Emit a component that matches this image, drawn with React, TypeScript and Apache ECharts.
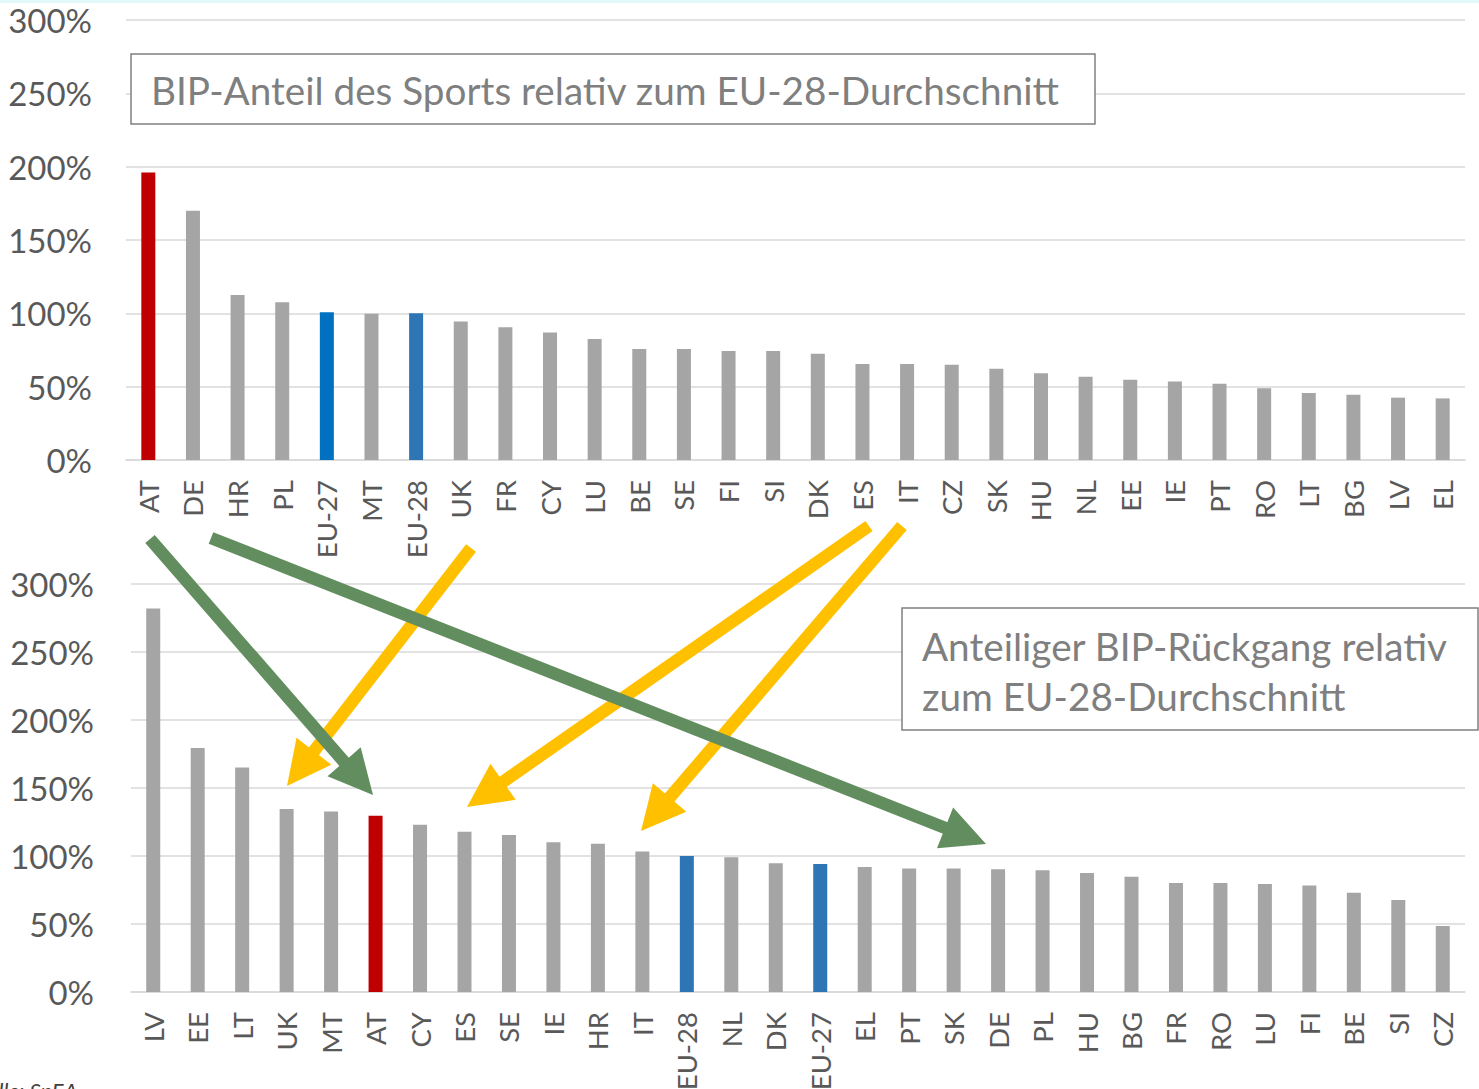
import React, { useEffect, useRef } from "react";
import * as echarts from "echarts";

const topCategories = ["AT","DE","HR","PL","EU-27","MT","EU-28","UK","FR","CY","LU","BE","SE","FI","SI","DK","ES","IT","CZ","SK","HU","NL","EE","IE","PT","RO","LT","BG","LV","EL"];
const topValues = [196,170,112.5,107.5,100.7,99.8,100,94.5,90.5,87,82.5,75.7,75.7,74.3,74.3,72.4,65.5,65.5,65,62.3,59.1,56.8,54.8,53.6,52,48.9,45.7,44.5,42.5,42];

const bottomCategories = ["LV","EE","LT","UK","MT","AT","CY","ES","SE","IE","HR","IT","EU-28","NL","DK","EU-27","EL","PT","SK","DE","PL","HU","BG","FR","RO","LU","FI","BE","SI","CZ"];
const bottomValues = [282,179.4,165.1,134.5,132.8,129.6,123,117.8,115.4,110.2,109,103.4,100,99,94.6,94.1,91.9,90.9,90.9,90.2,89.5,87.5,84.8,80.1,80.1,79.4,78.4,73,67.6,48.5];

const topTitle = "BIP-Anteil des Sports relativ zum EU-28-Durchschnitt";
const bottomTitleLines = ["Anteiliger BIP-Rückgang relativ", "zum EU-28-Durchschnitt"];
const sourceText = "Quelle: SpEA";

const GRAY = "#A5A5A5";
const RED = "#C00000";
const BLUE1 = "#0070C0";
const BLUE2 = "#2E75B6";
const GREEN = "#628D5E";
const YELLOW = "#FFC000";
const FONT = "Lato";

const topColor = (c: string) => (c === "AT" ? RED : c === "EU-27" ? BLUE1 : c === "EU-28" ? BLUE2 : GRAY);
const bottomColor = (c: string) => (c === "AT" ? RED : c === "EU-27" || c === "EU-28" ? BLUE2 : GRAY);

function arrow(tail: number[], tip: number[], color: string) {
  const dx = tip[0] - tail[0];
  const dy = tip[1] - tail[1];
  const L = Math.hypot(dx, dy);
  const ux = dx / L, uy = dy / L;
  const nx = -uy, ny = ux;
  const hl = 44, hw = 22;
  const bx = tip[0] - ux * hl, by = tip[1] - uy * hl;
  return [
    { type: "line", z: 100, shape: { x1: tail[0], y1: tail[1], x2: bx + ux * 3, y2: by + uy * 3 }, style: { stroke: color, lineWidth: 12.5, lineCap: "butt" } },
    { type: "polygon", z: 100, shape: { points: [[tip[0], tip[1]], [bx + nx * hw, by + ny * hw], [bx - nx * hw, by - ny * hw]] }, style: { fill: color } },
  ];
}

export default function App() {
  const ref = useRef<HTMLDivElement>(null);
  useEffect(() => {
    if (!ref.current) return;
    const chart = echarts.init(ref.current, null, { renderer: "svg" });
    const yAxisCommon = (margin: number) => ({
      type: "value",
      min: 0,
      max: 300,
      interval: 50,
      axisLine: { show: false },
      axisTick: { show: false },
      axisLabel: { formatter: "{value}%", color: "#595959", fontSize: 33, fontFamily: FONT, margin },
      splitLine: { lineStyle: { color: "#D9D9D9", width: 1.5 } },
    });
    const xAxisCommon = {
      type: "category",
      axisLine: { lineStyle: { color: "#D9D9D9", width: 1.5 } },
      axisTick: { show: false },
      axisLabel: { rotate: 90, interval: 0, margin: 20, color: "#595959", fontSize: 27.5, fontFamily: FONT },
    };
    const arrows = [
      ...arrow([471, 548], [287, 786], YELLOW),
      ...arrow([869, 526], [467, 807], YELLOW),
      ...arrow([902, 526], [641, 831], YELLOW),
      ...arrow([150, 539], [373, 795], GREEN),
      ...arrow([211, 538], [986, 844], GREEN),
    ];
    chart.setOption({
      animation: false,
      backgroundColor: "#ffffff",
      grid: [
        { left: 126, right: 14, top: 20, height: 440, containLabel: false, outerBoundsMode: "none" },
        { left: 131, right: 14, top: 584, height: 408, containLabel: false, outerBoundsMode: "none" },
      ],
      xAxis: [
        { ...xAxisCommon, gridIndex: 0, data: topCategories },
        { ...xAxisCommon, gridIndex: 1, data: bottomCategories },
      ],
      yAxis: [
        { ...yAxisCommon(34), gridIndex: 0 },
        { ...yAxisCommon(37), gridIndex: 1 },
      ],
      series: [
        {
          type: "bar",
          xAxisIndex: 0,
          yAxisIndex: 0,
          barWidth: 14,
          data: topValues.map((v, i) => ({ value: v, itemStyle: { color: topColor(topCategories[i]) } })),
        },
        {
          type: "bar",
          xAxisIndex: 1,
          yAxisIndex: 1,
          barWidth: 14,
          data: bottomValues.map((v, i) => ({ value: v, itemStyle: { color: bottomColor(bottomCategories[i]) } })),
        },
      ],
      graphic: [
        { type: "rect", z: 50, shape: { x: 0, y: 0, width: 1479, height: 3 }, style: { fill: "#E3F8F8" } },
        { type: "rect", z: 50, shape: { x: 131, y: 54, width: 964, height: 70 }, style: { fill: "#ffffff", stroke: "#808080", lineWidth: 1.5 } },
        { type: "text", z: 51, x: 151, y: 90, style: { text: topTitle, fill: "#7F7F7F", fontSize: 38.7, fontFamily: FONT, verticalAlign: "middle", textVerticalAlign: "middle" } },
        { type: "rect", z: 50, shape: { x: 902, y: 608, width: 576, height: 122 }, style: { fill: "#ffffff", stroke: "#808080", lineWidth: 1.5 } },
        { type: "text", z: 51, x: 922, y: 646, style: { text: bottomTitleLines[0], fill: "#7F7F7F", fontSize: 38.7, fontFamily: FONT, verticalAlign: "middle", textVerticalAlign: "middle" } },
        { type: "text", z: 51, x: 922, y: 696, style: { text: bottomTitleLines[1], fill: "#7F7F7F", fontSize: 38.7, fontFamily: FONT, verticalAlign: "middle", textVerticalAlign: "middle" } },
        { type: "text", z: 51, x: -40, y: 1079, style: { text: sourceText, fill: "#404040", fontSize: 22, fontStyle: "italic", fontFamily: FONT } },
        ...arrows,
      ],
    });
    return () => chart.dispose();
  }, []);
  return <div ref={ref} style={{ position: "fixed", left: 0, top: 0, width: 1479, height: 1089 }} />;
}
